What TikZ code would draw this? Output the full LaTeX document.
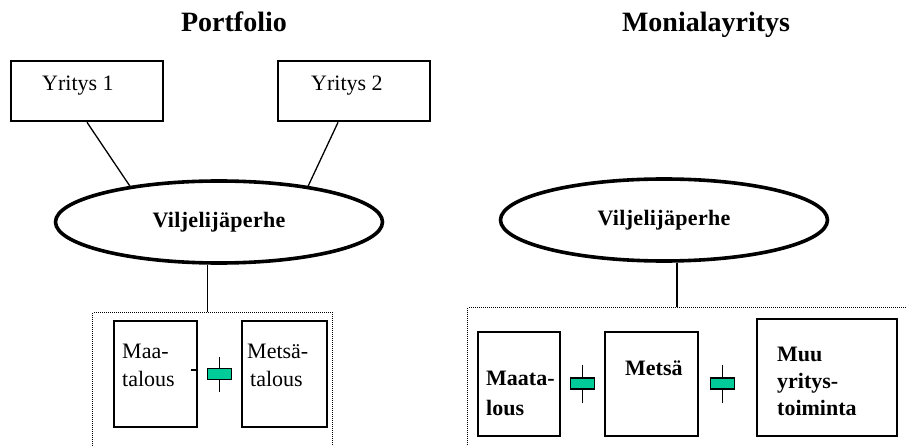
\documentclass[tikz,border=0pt]{standalone}
\usepackage{fontspec}
\setmainfont{Liberation Serif}
\usetikzlibrary{shapes.geometric}
\definecolor{plusgreen}{RGB}{0,204,153}

\begin{document}
\begin{tikzpicture}[x=1pt,y=-1pt,
    box/.style={draw,line width=2.6pt,inner sep=0pt},
    family/.style={ellipse,draw,line width=3.6pt,inner sep=0pt,minimum width=327pt,minimum height=82pt,
        font=\fontsize{22}{26}\selectfont\bfseries\addfontfeatures{LetterSpace=1.5}},
    dotbox/.style={draw,line width=1.2pt,dash pattern=on 1pt off 1pt,inner sep=0pt,anchor=north west},
    plus/.style={draw,fill=plusgreen,line width=1.4pt,inner sep=0pt,minimum width=24pt,minimum height=11pt},
    title/.style={font=\fontsize{28}{32}\selectfont\bfseries,inner sep=0pt,anchor=base},
    txt/.style={font=\fontsize{22}{28}\selectfont,inner sep=0pt,anchor=base west,align=left},
    btxt/.style={txt,font=\fontsize{22}{28}\selectfont\bfseries}]

                \clip (0,0) rectangle (907,446);

                % Portfolio
                \node[title] (t1) at (234,32) {Portfolio};
                \node[box,minimum width=152pt,minimum height=60pt] (y1) at (87,91) {};
                \node[box,minimum width=152pt,minimum height=60pt] (y2) at (354,91) {};
                \node[txt] at (42,91) {Yritys 1};
                \node[txt] at (311,91) {Yritys 2};
                \node[family] (vp1) at (219,222) {Viljelijäperhe};
                \node[dotbox,minimum width=240pt,minimum height=170pt] (fam1) at (92,312) {};
                \node[box,minimum width=83pt,minimum height=106pt] (m1) at (155.5,374) {};
                \node[box,minimum width=85pt,minimum height=106pt] (m2) at (284.5,374) {};
                \node[txt] at (122,386) {Maa-\\talous};
                \node[txt] at (247,386) {Metsä-\\\hspace*{3pt}talous};
                \node[plus] (p1) at (219.5,374) {};

                \draw[line width=1.3pt] (y1.south) to (vp1.158);
                \draw[line width=1.3pt] (y2.243.4) to (vp1.22);
                \draw[line width=1.3pt] (vp1.255) to (vp1.255 |- fam1.north);
                \draw[line width=1.8pt] (m1.east |- 0,370) to ++(-7,0);
                \draw[line width=1.4pt] (p1.north) to ++(0,-11);
                \draw[line width=1.4pt] (p1.south) to ++(0,12);

                % Monialayritys
                \node[title] (t2) at (706,32) {Monialayritys};
                \node[family] (vp2) at (664,220) {Viljelijäperhe};
                \node[dotbox,minimum width=460pt,minimum height=170pt] (fam2) at (467,307) {};
                \node[box,minimum width=82pt,minimum height=104pt] (r1) at (519,384) {};
                \node[box,minimum width=93pt,minimum height=104pt] (r2) at (651.5,384) {};
                \node[box,minimum width=140pt,minimum height=117pt] (r3) at (827,377.5) {};
                \node[btxt,font=\fontsize{22}{30}\selectfont\bfseries] at (486,415) {Maata-\\lous};
                \node[btxt] at (625,375) {Metsä};
                \node[btxt,font=\fontsize{22}{27}\selectfont\bfseries] at (777,415) {Muu\\yritys-\\toiminta};
                \node[plus] (p2) at (582.5,383.5) {};
                \node[plus] (p3) at (722.5,383.5) {};

                \draw[line width=1.3pt] (vp2.287) to (vp2.287 |- fam2.north);
                \draw[line width=1.4pt] (p2.north) to ++(0,-12);
                \draw[line width=1.4pt] (p2.south) to ++(0,13);
                \draw[line width=1.4pt] (p3.north) to ++(0,-12);
                \draw[line width=1.4pt] (p3.south) to ++(0,13);

                ;
            \end{tikzpicture}
\end{document}
